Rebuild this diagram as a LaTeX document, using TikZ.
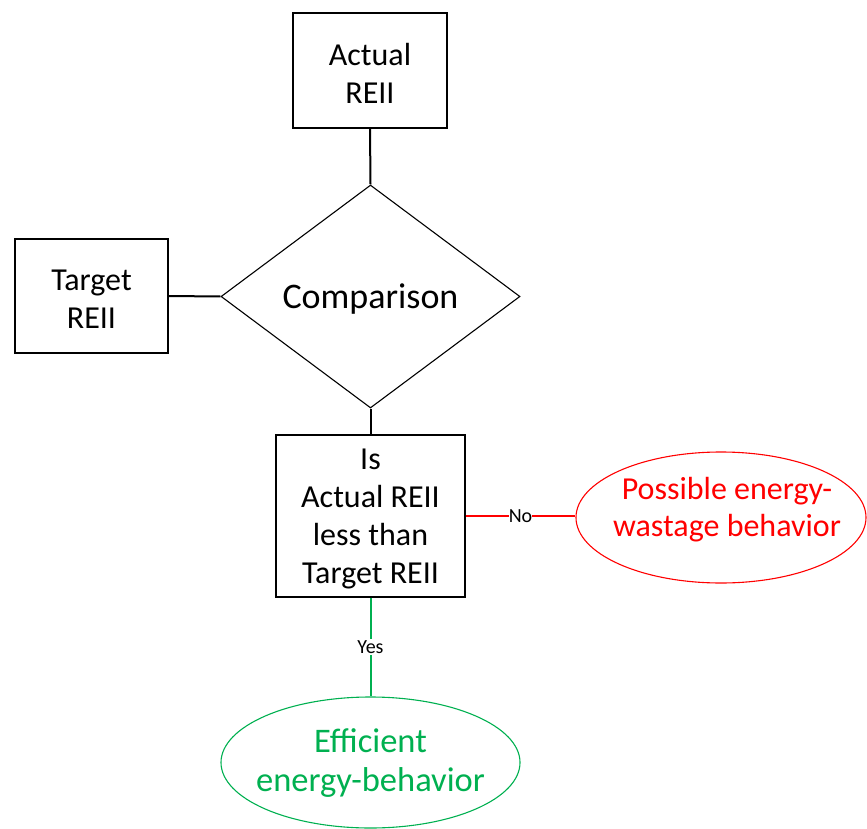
\documentclass[tikz,border=0pt]{standalone}
\usepackage{fontspec}
\setmainfont{Carlito}
\usetikzlibrary{shapes.geometric}
\definecolor{okgreen}{RGB}{0,176,80}
\definecolor{badred}{RGB}{255,0,0}
\begin{document}
\begin{tikzpicture}[x=1pt,y=1pt,
  txt/.style={font=\fontsize{32}{38}\selectfont, align=center, inner sep=0pt},
  bigtxt/.style={font=\fontsize{34.5}{39}\selectfont, align=center, inner sep=0pt},
  box/.style={draw=black, line width=1.1pt, inner sep=0pt},
  decision/.style={diamond, draw=black, line width=1.1pt, inner sep=0pt},
  outcome/.style={ellipse, line width=1.1pt, inner sep=0pt},
  link/.style={line width=2pt},
  tag/.style={font=\fontsize{20}{24}\selectfont, fill=white, inner sep=1.5pt, text=black}]
\useasboundingbox (0,0) rectangle (867,-829);

% input values
\node[box, minimum width=154pt, minimum height=115pt] (actual) at (370,-70.5) {};
\node[txt, yshift=-3pt] (actual-t) at (actual) {Actual\\REII};
\node[box, minimum width=153pt, minimum height=114pt] (target) at (91.5,-296) {};
\node[txt, yshift=-3pt] (target-t) at (target) {Target\\REII};

% comparison step
\node[decision, minimum width=299pt, minimum height=223pt] (cmp) at (370.5,-296.5) {};
\node[font=\fontsize{36}{42}\selectfont, inner sep=0pt, yshift=-3pt] (cmp-t) at (cmp) {Comparison};

% decision question
\node[box, minimum width=189pt, minimum height=162pt] (test) at (370.5,-516) {};
\node[txt, yshift=-3pt] (test-t) at (test) {Is\\Actual REII\\less than\\Target REII};

% outcomes
\node[outcome, draw=badred, minimum width=290pt, minimum height=131pt] (waste) at (721,-517.5) {};
\node[txt, font=\fontsize{32}{37}\selectfont, text=badred, xshift=6pt, yshift=8pt] (waste-t) at (waste) {Possible energy-\\wastage behavior};
\node[outcome, draw=okgreen, minimum width=299pt, minimum height=131pt] (eff) at (370.5,-762.5) {};
\node[bigtxt, text=okgreen, yshift=-1pt] (eff-t) at (eff) {Efficient\\energy-behavior};

% connectors
\draw[link] (actual.south) -- (cmp.north);
\draw[link] (target.east) -- (cmp.west);
\draw[link] (cmp.south) -- (test.north);
\draw[link, badred] (test.east) -- node[tag, inner sep=0pt] {No} (test.east -| waste.west);
\draw[link, okgreen] (test.south) -- node[tag] {Yes} (eff.north);
\end{tikzpicture}
\end{document}
